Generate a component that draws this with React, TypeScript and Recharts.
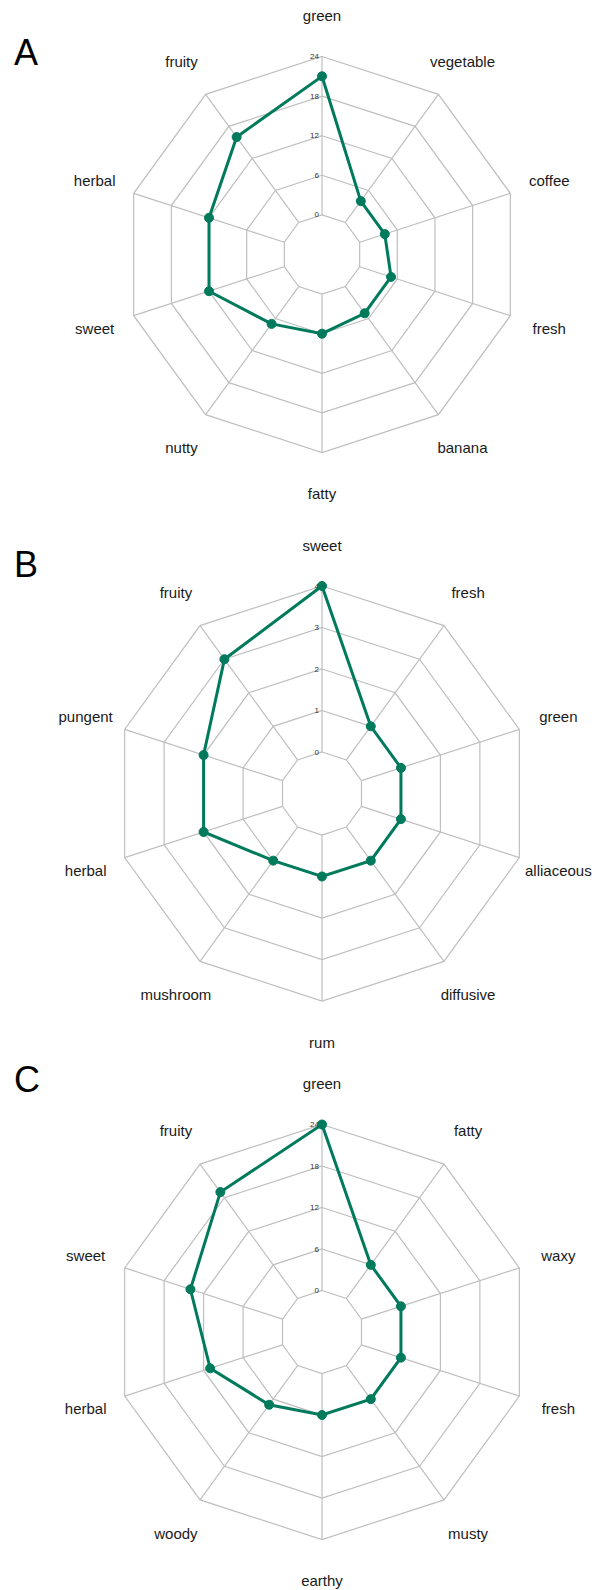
import React from 'react';
import { RadarChart, Radar, PolarGrid, PolarAngleAxis, PolarRadiusAxis } from 'recharts';

// odour descriptors, clockwise from the top
const categoriesA = ['green', 'vegetable', 'coffee', 'fresh', 'banana', 'fatty', 'nutty', 'sweet', 'herbal', 'fruity'];
const valuesA = [21, 4, 4, 5, 5, 6, 7, 12, 12, 16];

const categoriesB = ['sweet', 'fresh', 'green', 'alliaceous', 'diffusive', 'rum', 'mushroom', 'herbal', 'pungent', 'fruity'];
const valuesB = [4, 1, 1, 1, 1, 1, 1, 2, 2, 3];

const categoriesC = ['green', 'fatty', 'waxy', 'fresh', 'musty', 'earthy', 'woody', 'herbal', 'sweet', 'fruity'];
const valuesC = [24, 6, 6, 6, 6, 6, 7, 11, 14, 19];

const domainA: [number, number] = [0, 24];
const domainB: [number, number] = [0, 4];
const domainC: [number, number] = [0, 24];

const LINE = '#007a5c';
const FONT = '"Liberation Sans", Arial, Helvetica, sans-serif';
const RAD = Math.PI / 180;

type PanelProps = {
    letter: string;
    top: number;
    height: number;
    cy: number;
    radius: number;
    letterTop: number;
    categories: string[];
    values: number[];
    domain: [number, number];
};

const Panel: React.FC<PanelProps> = ({ letter, top, height, cy, radius, letterTop, categories, values, domain }) => {
    const cx = 322;
    const data = categories.map((name, i) => ({ name, value: values[i] }));
    const labelR = radius + 41;

    // category labels sit centred on the spoke direction, outside the grid
    const AngleTick = (props: any) => {
        const angle = props.payload.coordinate;
        const x = cx + labelR * Math.cos(-angle * RAD);
        const y = cy + labelR * Math.sin(-angle * RAD);
        return (
            <text x={x} y={y} textAnchor="middle" dominantBaseline="central" fontSize={15} fill="#1a1a1a" fontFamily={FONT}>
                {props.payload.value}
            </text>
        );
    };

    const RadiusTick = (props: any) => (
        <text x={props.x - 3} y={props.y} textAnchor="end" dominantBaseline="central" fontSize={8} fill="#333" fontFamily={FONT}>
            {props.payload.value}
        </text>
    );

    return (
        <div style={{ position: 'absolute', left: 0, top, width: 596, height }}>
            <div style={{ position: 'absolute', left: 14, top: letterTop, fontFamily: FONT, fontSize: 36, lineHeight: 1, color: '#000' }}>
                {letter}
            </div>
            <RadarChart
                width={596}
                height={height}
                data={data}
                cx={cx}
                cy={cy}
                innerRadius={radius / 5}
                outerRadius={radius}
                margin={{ top: 0, right: 0, bottom: 0, left: 0 }}
            >
                <PolarGrid gridType="polygon" stroke="#bfbfbf" strokeWidth={1.2} />
                <PolarAngleAxis dataKey="name" axisLine={false} tickLine={false} tick={AngleTick} />
                <PolarRadiusAxis angle={90} domain={domain} tickCount={5} axisLine={false} tickLine={false} tick={RadiusTick} />
                <Radar
                    dataKey="value"
                    stroke={LINE}
                    strokeWidth={3}
                    fill="none"
                    fillOpacity={0}
                    dot={{ r: 4.5, fill: LINE, stroke: LINE, strokeWidth: 1, fillOpacity: 1 }}
                    isAnimationActive={false}
                />
            </RadarChart>
        </div>
    );
};

const App: React.FC = () => (
    <div style={{ position: 'absolute', left: 0, top: 0, width: 596, height: 1590, background: '#fff' }}>
        <Panel letter="A" top={0} height={520} cy={254.5} radius={198} letterTop={35} categories={categoriesA} values={valuesA} domain={domainA} />
        <Panel letter="B" top={520} height={540} cy={273.5} radius={207.5} letterTop={27} categories={categoriesB} values={valuesB} domain={domainB} />
        <Panel letter="C" top={1060} height={530} cy={272} radius={207.5} letterTop={2} categories={categoriesC} values={valuesC} domain={domainC} />
    </div>
);

export default App;
